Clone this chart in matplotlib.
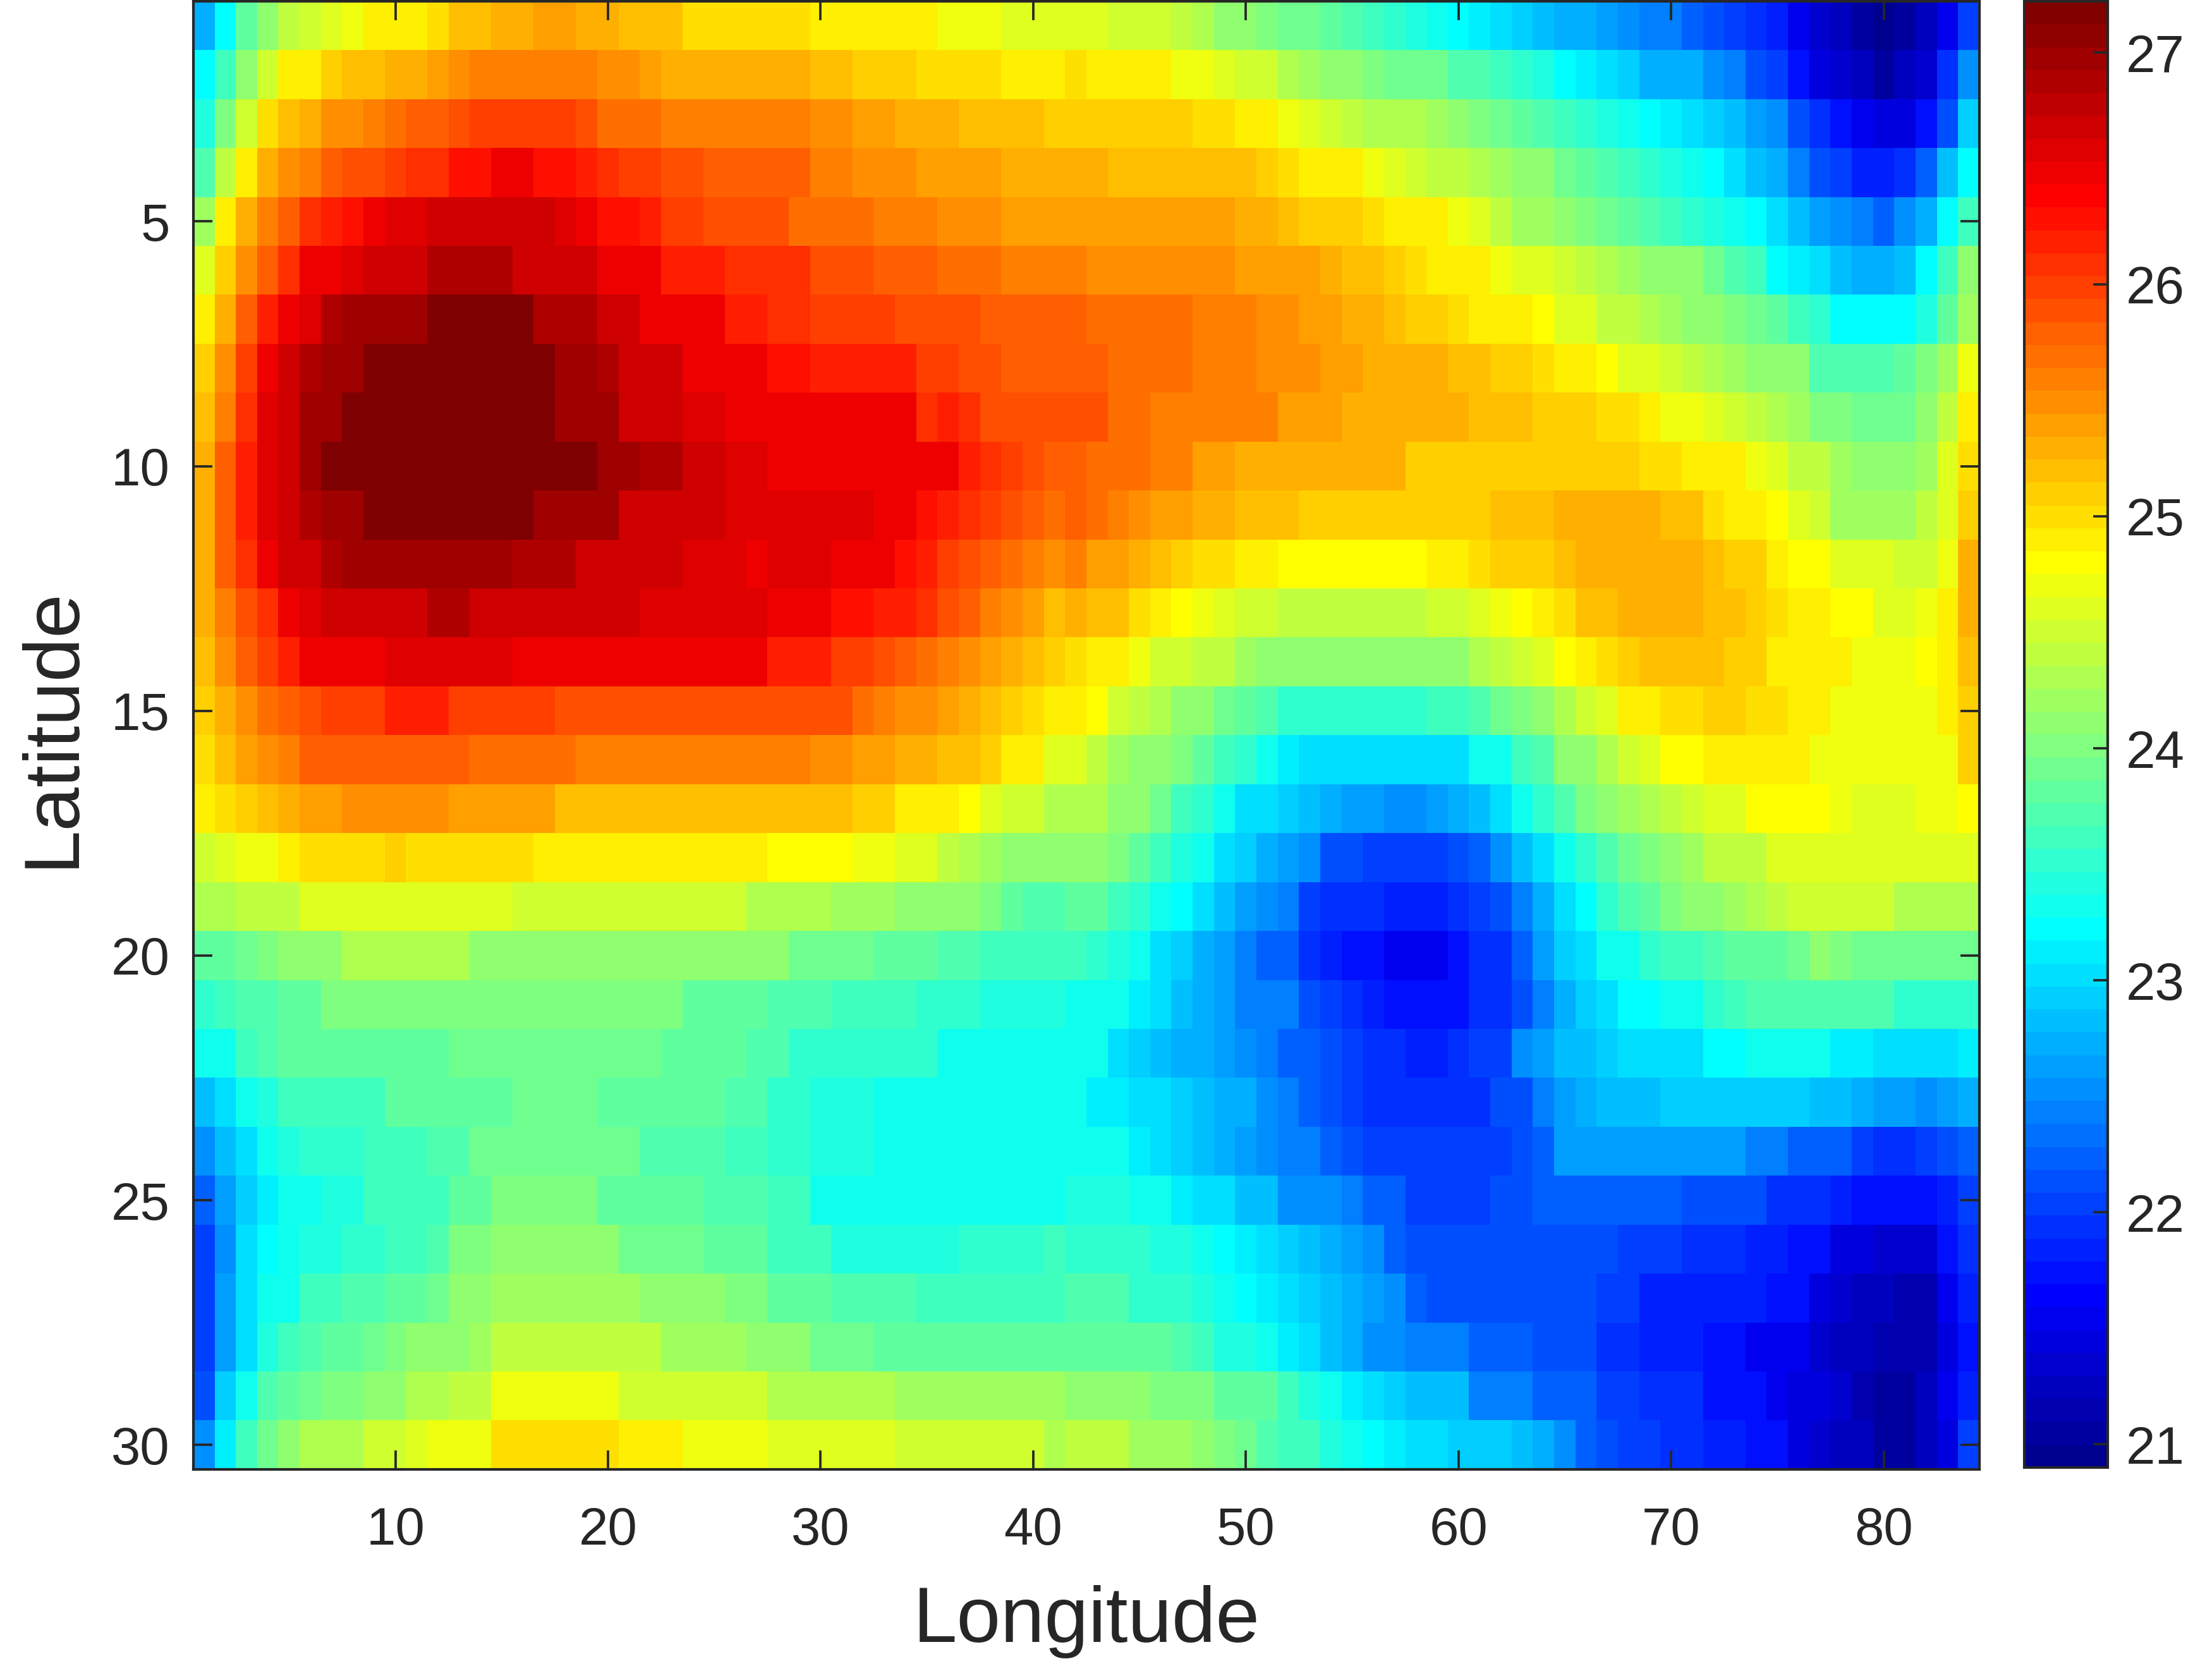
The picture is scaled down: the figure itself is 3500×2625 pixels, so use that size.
import numpy as np
import matplotlib
matplotlib.use('Agg')
import matplotlib.pyplot as plt
from matplotlib.colors import ListedColormap

plt.rcParams['font.family'] = ['Liberation Sans', 'DejaVu Sans']
INK = '#262626'

# one list per latitude row, 84 longitudes
row01 = [22.5,23.0,23.6,23.9,24.3,24.4,24.5,24.6,24.8,24.8,
         24.9,25.0,25.2,25.2,25.3,25.3,25.4,25.4,25.3,25.3,
         25.2,25.2,25.2,25.0,25.0,25.0,25.0,25.0,25.0,24.9,
         24.9,24.9,24.8,24.8,24.8,24.6,24.6,24.6,24.5,24.5,
         24.5,24.5,24.5,24.4,24.4,24.4,24.3,24.2,24.0,23.9,
         23.8,23.7,23.7,23.6,23.5,23.4,23.3,23.2,23.1,23.0,
         22.9,22.8,22.7,22.6,22.5,22.5,22.4,22.3,22.2,22.2,
         22.1,22.0,21.9,21.8,21.7,21.5,21.3,21.2,21.0,20.9,
         21.0,21.2,21.5,21.9]
row02 = [23.0,23.4,23.9,24.4,24.8,24.9,25.1,25.2,25.2,25.3,
         25.3,25.4,25.5,25.6,25.6,25.6,25.6,25.6,25.6,25.5,
         25.5,25.4,25.3,25.3,25.3,25.3,25.3,25.3,25.3,25.2,
         25.2,25.1,25.1,25.1,25.0,25.0,25.0,25.0,24.9,24.9,
         24.9,25.0,24.8,24.8,24.8,24.8,24.6,24.6,24.5,24.4,
         24.4,24.2,24.1,24.0,23.9,23.8,23.7,23.7,23.7,23.5,
         23.5,23.4,23.3,23.2,23.0,22.9,22.8,22.7,22.5,22.5,
         22.5,22.3,22.2,22.0,21.9,21.6,21.4,21.3,21.2,21.0,
         21.2,21.3,21.8,22.3]
row03 = [23.2,23.8,24.4,25.0,25.2,25.3,25.5,25.5,25.6,25.7,
         25.8,25.8,25.9,26.0,26.0,26.0,26.0,26.0,25.9,25.7,
         25.7,25.7,25.6,25.6,25.6,25.6,25.6,25.6,25.6,25.5,
         25.5,25.4,25.4,25.3,25.3,25.3,25.2,25.2,25.2,25.2,
         25.1,25.1,25.1,25.1,25.1,25.1,25.1,25.0,25.0,24.9,
         24.8,24.6,24.5,24.4,24.3,24.2,24.2,24.2,24.1,23.9,
         23.8,23.7,23.6,23.5,23.4,23.3,23.2,23.1,23.0,22.9,
         22.8,22.7,22.6,22.4,22.3,22.0,21.8,21.6,21.5,21.4,
         21.4,21.6,22.0,22.7]
row04 = [23.5,24.3,24.9,25.3,25.5,25.6,25.8,25.9,25.9,26.0,
         26.1,26.1,26.3,26.3,26.4,26.4,26.3,26.3,26.2,26.1,
         26.0,26.0,25.9,25.9,25.8,25.8,25.8,25.8,25.8,25.6,
         25.6,25.5,25.5,25.5,25.4,25.4,25.4,25.4,25.3,25.3,
         25.3,25.3,25.3,25.2,25.2,25.2,25.2,25.2,25.2,25.2,
         25.1,25.0,24.9,24.9,24.8,24.6,24.5,24.4,24.3,24.3,
         24.2,24.1,24.0,23.9,23.7,23.6,23.5,23.4,23.3,23.2,
         23.1,23.0,22.8,22.6,22.5,22.2,22.0,21.9,21.7,21.7,
         21.8,22.1,22.6,23.0]
row05 = [24.1,24.8,25.3,25.6,25.8,26.1,26.2,26.3,26.4,26.6,
         26.6,26.7,26.7,26.8,26.8,26.8,26.8,26.6,26.4,26.3,
         26.3,26.2,26.0,26.0,25.9,25.9,25.9,25.9,25.7,25.7,
         25.7,25.7,25.6,25.6,25.6,25.5,25.5,25.5,25.4,25.4,
         25.4,25.4,25.4,25.4,25.4,25.4,25.4,25.4,25.4,25.3,
         25.3,25.2,25.1,25.1,25.1,25.0,24.9,24.8,24.8,24.6,
         24.5,24.3,24.1,24.1,24.0,23.8,23.7,23.6,23.5,23.4,
         23.3,23.2,23.1,23.0,22.8,22.6,22.4,22.3,22.2,22.1,
         22.3,22.5,23.0,23.4]
row06 = [24.5,25.1,25.5,25.8,26.1,26.4,26.5,26.6,26.7,26.8,
         26.8,26.9,26.9,26.9,26.9,26.8,26.8,26.7,26.7,26.5,
         26.5,26.4,26.2,26.2,26.2,26.1,26.1,26.1,26.1,25.9,
         25.9,25.9,25.8,25.8,25.8,25.7,25.7,25.7,25.6,25.6,
         25.6,25.6,25.5,25.5,25.5,25.5,25.5,25.5,25.5,25.4,
         25.4,25.4,25.4,25.3,25.2,25.2,25.1,25.0,24.9,24.9,
         24.8,24.6,24.5,24.5,24.4,24.3,24.2,24.1,24.0,23.9,
         23.9,23.7,23.5,23.4,23.0,22.9,22.8,22.6,22.5,22.5,
         22.6,23.0,23.4,23.9]
row07 = [24.9,25.3,25.8,26.2,26.4,26.6,26.9,27.0,27.0,27.0,
         27.0,27.1,27.1,27.1,27.1,27.1,26.9,26.9,26.9,26.7,
         26.7,26.5,26.5,26.4,26.4,26.2,26.2,26.1,26.1,26.0,
         26.0,26.0,26.0,25.9,25.9,25.9,25.9,25.8,25.8,25.8,
         25.8,25.8,25.7,25.7,25.7,25.7,25.7,25.6,25.6,25.6,
         25.5,25.5,25.4,25.4,25.3,25.3,25.2,25.1,25.1,25.0,
         24.9,24.9,24.8,24.7,24.5,24.5,24.3,24.3,24.2,24.1,
         23.9,23.9,23.8,23.7,23.6,23.4,23.3,23.0,23.0,23.0,
         23.0,23.2,23.6,24.1]
row08 = [25.1,25.5,26.0,26.4,26.7,26.9,27.0,27.0,27.2,27.2,
         27.2,27.2,27.2,27.2,27.2,27.2,27.2,27.0,27.0,26.9,
         26.8,26.8,26.7,26.5,26.5,26.4,26.4,26.3,26.3,26.2,
         26.2,26.2,26.2,26.2,26.0,26.0,25.9,25.9,25.8,25.8,
         25.8,25.8,25.8,25.7,25.7,25.7,25.7,25.6,25.6,25.6,
         25.5,25.5,25.5,25.4,25.4,25.3,25.3,25.3,25.3,25.2,
         25.2,25.1,25.1,25.0,24.8,24.8,24.7,24.5,24.5,24.4,
         24.3,24.2,24.1,24.0,24.0,23.9,23.5,23.5,23.5,23.5,
         23.6,23.8,24.1,24.6]
row09 = [25.2,25.6,26.1,26.6,26.8,27.0,27.0,27.1,27.2,27.2,
         27.2,27.2,27.2,27.2,27.2,27.2,27.2,27.0,27.0,27.0,
         26.8,26.8,26.8,26.6,26.6,26.5,26.5,26.4,26.4,26.4,
         26.4,26.4,26.4,26.4,26.1,26.2,26.1,25.9,25.9,25.9,
         25.9,25.9,25.9,25.7,25.7,25.6,25.6,25.6,25.6,25.6,
         25.6,25.4,25.4,25.4,25.3,25.3,25.3,25.3,25.3,25.3,
         25.2,25.2,25.2,25.1,25.1,25.1,25.0,25.0,24.8,24.6,
         24.6,24.5,24.4,24.3,24.2,24.1,23.8,23.8,23.7,23.7,
         23.7,23.9,24.3,24.8]
row10 = [25.3,25.8,26.2,26.6,26.8,27.0,27.1,27.1,27.1,27.2,
         27.2,27.2,27.2,27.2,27.2,27.2,27.1,27.1,27.1,27.0,
         27.0,26.9,26.9,26.8,26.8,26.6,26.6,26.5,26.5,26.5,
         26.4,26.4,26.4,26.4,26.4,26.4,26.2,26.1,26.0,25.9,
         25.8,25.8,25.7,25.7,25.7,25.6,25.6,25.4,25.4,25.3,
         25.3,25.3,25.3,25.3,25.3,25.3,25.3,25.1,25.1,25.1,
         25.1,25.1,25.1,25.1,25.1,25.1,25.1,25.1,25.0,25.0,
         24.9,24.8,24.8,24.6,24.5,24.3,24.3,24.1,23.9,23.9,
         23.9,24.1,24.5,25.0]
row11 = [25.3,25.8,26.2,26.6,26.8,26.9,27.0,27.0,27.1,27.1,
         27.1,27.1,27.1,27.1,27.1,27.1,27.0,27.0,27.0,27.0,
         26.8,26.8,26.8,26.7,26.7,26.6,26.6,26.6,26.6,26.6,
         26.6,26.6,26.4,26.4,26.3,26.2,26.1,26.0,25.9,25.8,
         25.7,25.8,25.7,25.6,25.5,25.4,25.4,25.3,25.3,25.2,
         25.2,25.2,25.1,25.1,25.1,25.1,25.1,25.1,25.1,25.1,
         25.1,25.2,25.2,25.2,25.3,25.3,25.3,25.3,25.3,25.2,
         25.2,25.0,24.9,24.8,24.7,24.5,24.4,24.1,24.1,24.1,
         24.1,24.3,24.5,25.1]
row12 = [25.3,25.8,26.1,26.4,26.7,26.8,26.9,27.0,27.0,27.0,
         27.0,27.0,27.0,27.0,27.0,26.9,26.9,26.9,26.8,26.8,
         26.7,26.7,26.7,26.6,26.6,26.6,26.5,26.6,26.6,26.6,
         26.4,26.4,26.4,26.3,26.2,26.0,25.9,25.8,25.7,25.6,
         25.5,25.6,25.4,25.4,25.3,25.2,25.1,25.0,25.0,24.8,
         24.8,24.7,24.7,24.7,24.7,24.7,24.7,24.7,24.8,24.8,
         25.0,25.1,25.1,25.1,25.2,25.3,25.3,25.3,25.3,25.3,
         25.3,25.2,25.1,25.1,24.8,24.7,24.7,24.5,24.5,24.5,
         24.4,24.4,24.6,25.3]
row13 = [25.3,25.6,25.9,26.1,26.4,26.6,26.7,26.8,26.8,26.8,
         26.8,26.9,26.9,26.7,26.7,26.7,26.7,26.7,26.7,26.7,
         26.7,26.6,26.6,26.6,26.6,26.6,26.6,26.4,26.4,26.4,
         26.3,26.3,26.2,26.2,26.1,25.9,25.8,25.6,25.5,25.4,
         25.2,25.3,25.2,25.2,25.0,24.8,24.7,24.6,24.5,24.4,
         24.4,24.3,24.3,24.3,24.3,24.3,24.3,24.3,24.4,24.4,
         24.5,24.6,24.7,24.8,25.0,25.2,25.2,25.3,25.3,25.3,
         25.3,25.2,25.2,25.1,25.0,24.8,24.8,24.7,24.7,24.5,
         24.5,24.6,24.8,25.3]
row14 = [25.2,25.5,25.8,26.0,26.2,26.4,26.5,26.5,26.5,26.6,
         26.6,26.6,26.6,26.6,26.6,26.5,26.5,26.5,26.4,26.4,
         26.4,26.4,26.4,26.4,26.4,26.4,26.4,26.2,26.2,26.2,
         26.0,26.0,25.9,25.8,25.7,25.6,25.5,25.4,25.3,25.2,
         25.1,25.0,24.9,24.8,24.6,24.4,24.4,24.3,24.3,24.1,
         24.0,23.9,23.9,23.9,23.9,23.9,23.9,23.9,23.9,24.0,
         24.2,24.3,24.4,24.5,24.7,24.8,25.0,25.1,25.2,25.2,
         25.2,25.2,25.1,25.1,24.9,24.8,24.8,24.8,24.6,24.6,
         24.6,24.7,24.8,25.2]
row15 = [25.1,25.3,25.5,25.7,25.8,25.9,26.0,26.0,26.0,26.2,
         26.2,26.2,26.0,26.0,26.0,26.0,26.0,25.9,25.9,25.9,
         25.9,25.9,25.9,25.9,25.9,25.9,25.9,25.9,25.9,25.9,
         25.9,25.7,25.6,25.5,25.5,25.4,25.3,25.2,25.1,25.0,
         24.8,24.8,24.7,24.4,24.3,24.2,24.0,23.9,23.7,23.6,
         23.5,23.3,23.3,23.3,23.3,23.3,23.3,23.3,23.4,23.4,
         23.5,23.7,23.8,23.9,24.2,24.4,24.5,24.8,24.8,25.0,
         25.0,25.1,25.1,25.0,25.0,24.8,24.8,24.6,24.6,24.6,
         24.6,24.6,24.8,25.1]
row16 = [25.0,25.2,25.4,25.5,25.6,25.8,25.8,25.8,25.8,25.8,
         25.8,25.8,25.8,25.7,25.7,25.7,25.7,25.7,25.6,25.6,
         25.6,25.6,25.6,25.6,25.6,25.6,25.6,25.6,25.6,25.5,
         25.5,25.4,25.4,25.3,25.3,25.2,25.2,25.1,24.9,24.8,
         24.5,24.5,24.3,24.1,24.0,23.9,23.8,23.6,23.4,23.3,
         23.1,22.9,22.8,22.8,22.8,22.8,22.8,22.8,22.8,22.8,
         23.1,23.1,23.4,23.5,23.9,24.0,24.2,24.4,24.5,24.7,
         24.7,24.8,24.8,24.8,24.8,24.8,24.6,24.6,24.6,24.6,
         24.6,24.6,24.6,25.1]
row17 = [24.8,25.0,25.1,25.2,25.3,25.4,25.4,25.5,25.5,25.5,
         25.5,25.5,25.4,25.4,25.4,25.4,25.4,25.2,25.2,25.2,
         25.2,25.2,25.2,25.2,25.2,25.2,25.2,25.2,25.2,25.2,
         25.2,25.1,25.1,24.9,24.9,24.8,24.7,24.5,24.4,24.4,
         24.2,24.2,24.2,24.0,23.9,23.7,23.4,23.3,23.1,22.8,
         22.8,22.7,22.6,22.5,22.4,22.4,22.3,22.3,22.4,22.5,
         22.6,22.8,23.1,23.3,23.5,23.8,23.9,24.1,24.2,24.3,
         24.4,24.5,24.5,24.7,24.7,24.7,24.7,24.6,24.5,24.5,
         24.5,24.6,24.6,24.7]
row18 = [24.4,24.5,24.6,24.6,24.8,25.0,25.0,25.0,25.0,25.1,
         25.0,25.0,25.0,25.0,25.0,25.0,24.8,24.8,24.8,24.8,
         24.8,24.8,24.8,24.8,24.8,24.8,24.8,24.7,24.7,24.7,
         24.7,24.6,24.6,24.5,24.5,24.3,24.2,24.1,24.0,24.0,
         23.9,24.0,23.9,23.8,23.6,23.4,23.2,23.1,22.8,22.7,
         22.5,22.4,22.3,22.0,22.0,21.9,21.9,21.9,21.9,22.0,
         22.1,22.3,22.6,22.8,23.1,23.3,23.5,23.7,23.8,24.0,
         24.1,24.3,24.3,24.3,24.5,24.5,24.5,24.5,24.5,24.5,
         24.5,24.5,24.5,24.5]
row19 = [24.2,24.2,24.3,24.3,24.3,24.5,24.5,24.5,24.5,24.5,
         24.5,24.5,24.5,24.5,24.5,24.4,24.4,24.4,24.4,24.4,
         24.4,24.4,24.4,24.4,24.4,24.4,24.2,24.2,24.2,24.2,
         24.1,24.1,24.1,24.0,24.0,24.0,23.9,23.8,23.6,23.5,
         23.5,23.6,23.6,23.4,23.3,23.1,23.0,22.8,22.6,22.4,
         22.3,22.2,21.9,21.8,21.8,21.8,21.7,21.7,21.7,21.8,
         21.9,22.0,22.2,22.5,22.8,23.0,23.3,23.5,23.6,23.8,
         23.9,24.0,24.1,24.2,24.3,24.4,24.4,24.4,24.4,24.4,
         24.2,24.2,24.2,24.2]
row20 = [23.6,23.6,23.7,23.8,24.0,24.0,24.0,24.2,24.2,24.2,
         24.2,24.2,24.2,24.0,24.0,24.0,24.0,24.0,24.0,24.0,
         24.0,24.0,24.0,24.0,23.9,23.9,23.9,23.9,23.7,23.7,
         23.7,23.7,23.6,23.6,23.6,23.5,23.5,23.4,23.4,23.4,
         23.4,23.4,23.3,23.2,23.1,22.8,22.7,22.5,22.4,22.2,
         22.1,22.1,21.8,21.7,21.6,21.6,21.5,21.5,21.5,21.6,
         21.8,21.8,22.1,22.4,22.7,22.8,23.1,23.1,23.3,23.4,
         23.4,23.5,23.6,23.6,23.6,23.7,23.9,23.8,23.7,23.7,
         23.7,23.7,23.7,23.7]
row21 = [23.3,23.4,23.5,23.5,23.6,23.6,23.8,23.8,23.8,23.8,
         23.8,23.8,23.8,23.8,23.8,23.8,23.8,23.8,23.8,23.8,
         23.8,23.8,23.8,23.6,23.6,23.6,23.6,23.5,23.5,23.5,
         23.4,23.4,23.4,23.4,23.3,23.3,23.3,23.2,23.2,23.2,
         23.2,23.1,23.1,23.1,22.9,22.8,22.6,22.5,22.4,22.2,
         22.2,22.2,22.0,21.9,21.8,21.7,21.6,21.6,21.6,21.6,
         21.8,21.8,22.0,22.2,22.5,22.7,22.8,23.0,23.0,23.1,
         23.1,23.3,23.4,23.5,23.5,23.5,23.5,23.5,23.5,23.5,
         23.3,23.3,23.3,23.3]
row22 = [23.1,23.1,23.4,23.5,23.6,23.6,23.6,23.6,23.6,23.6,
         23.6,23.6,23.7,23.7,23.7,23.7,23.7,23.7,23.7,23.7,
         23.7,23.7,23.6,23.6,23.6,23.6,23.5,23.5,23.3,23.3,
         23.3,23.3,23.3,23.3,23.3,23.1,23.1,23.1,23.1,23.1,
         23.1,23.1,23.1,22.8,22.7,22.6,22.5,22.5,22.4,22.3,
         22.2,22.1,22.1,22.0,21.9,21.8,21.8,21.7,21.7,21.8,
         21.9,21.9,22.3,22.4,22.6,22.6,22.7,22.8,22.8,22.8,
         22.8,23.0,23.0,23.1,23.1,23.1,23.1,22.9,22.9,22.8,
         22.8,22.8,22.8,22.9]
row23 = [22.6,22.8,23.1,23.2,23.4,23.4,23.4,23.4,23.4,23.6,
         23.6,23.6,23.6,23.6,23.6,23.7,23.7,23.7,23.7,23.6,
         23.6,23.6,23.6,23.6,23.6,23.5,23.5,23.3,23.3,23.2,
         23.2,23.2,23.1,23.1,23.1,23.1,23.1,23.1,23.1,23.1,
         23.1,23.1,22.9,22.9,22.8,22.8,22.7,22.6,22.5,22.5,
         22.3,22.2,22.1,22.0,21.9,21.8,21.8,21.8,21.8,21.8,
         21.8,22.0,22.0,22.2,22.4,22.5,22.6,22.6,22.6,22.7,
         22.7,22.7,22.7,22.7,22.7,22.7,22.6,22.6,22.5,22.4,
         22.4,22.3,22.4,22.5]
row24 = [22.3,22.6,22.8,23.1,23.2,23.3,23.3,23.3,23.4,23.4,
         23.4,23.5,23.5,23.7,23.7,23.7,23.7,23.7,23.7,23.7,
         23.7,23.5,23.5,23.5,23.5,23.4,23.4,23.3,23.3,23.2,
         23.2,23.2,23.1,23.1,23.1,23.1,23.1,23.1,23.1,23.1,
         23.1,23.1,23.1,23.1,22.9,22.8,22.7,22.6,22.5,22.4,
         22.3,22.2,22.2,22.1,22.0,21.9,21.9,21.9,21.9,21.9,
         21.9,21.9,22.0,22.1,22.4,22.4,22.4,22.4,22.4,22.4,
         22.4,22.4,22.4,22.2,22.2,22.1,22.1,22.1,21.9,21.8,
         21.8,21.9,22.0,22.1]
row25 = [22.1,22.4,22.7,22.9,23.1,23.1,23.2,23.2,23.4,23.4,
         23.4,23.4,23.6,23.6,23.8,23.8,23.8,23.8,23.8,23.6,
         23.6,23.6,23.6,23.6,23.5,23.5,23.5,23.4,23.4,23.1,
         23.1,23.1,23.1,23.1,23.1,23.1,23.1,23.1,23.1,23.1,
         23.1,23.2,23.2,23.2,23.1,23.1,22.9,22.8,22.8,22.6,
         22.6,22.3,22.3,22.3,22.2,22.1,22.1,21.9,21.9,21.9,
         21.9,22.0,22.0,22.1,22.1,22.1,22.1,22.1,22.1,22.1,
         22.0,22.0,22.0,22.0,21.8,21.8,21.8,21.7,21.6,21.6,
         21.6,21.6,21.7,21.9]
row26 = [21.9,22.3,22.8,23.0,23.1,23.2,23.2,23.3,23.3,23.4,
         23.4,23.5,23.8,23.8,23.9,23.9,23.9,23.9,23.9,23.9,
         23.7,23.7,23.7,23.7,23.6,23.6,23.6,23.4,23.4,23.4,
         23.2,23.2,23.2,23.2,23.2,23.2,23.3,23.3,23.3,23.3,
         23.4,23.3,23.3,23.3,23.3,23.2,23.2,23.1,23.0,22.9,
         22.8,22.7,22.6,22.5,22.4,22.3,22.1,22.0,22.0,22.0,
         22.0,22.0,22.0,22.0,22.0,22.0,22.0,21.9,21.9,21.9,
         21.8,21.8,21.8,21.7,21.7,21.6,21.6,21.4,21.4,21.3,
         21.3,21.3,21.6,21.8]
row27 = [21.9,22.4,22.8,23.1,23.1,23.4,23.4,23.5,23.5,23.6,
         23.6,23.7,23.9,23.9,24.1,24.1,24.1,24.1,24.1,24.1,
         24.1,23.9,23.9,23.9,23.9,23.8,23.8,23.6,23.6,23.6,
         23.5,23.5,23.5,23.5,23.4,23.4,23.4,23.4,23.4,23.4,
         23.4,23.5,23.5,23.5,23.3,23.3,23.3,23.2,23.1,23.0,
         22.9,22.8,22.7,22.6,22.5,22.4,22.3,22.1,22.0,22.0,
         22.0,22.0,22.0,22.0,22.0,22.0,21.9,21.9,21.7,21.7,
         21.7,21.7,21.7,21.7,21.6,21.6,21.4,21.3,21.2,21.2,
         21.1,21.1,21.5,21.7]
row28 = [21.9,22.4,22.8,23.2,23.4,23.5,23.6,23.6,23.7,23.8,
         23.9,24.0,24.0,24.1,24.3,24.3,24.3,24.3,24.3,24.3,
         24.3,24.3,24.1,24.1,24.1,24.1,23.9,23.9,23.9,23.7,
         23.7,23.7,23.6,23.6,23.6,23.6,23.6,23.6,23.6,23.6,
         23.6,23.6,23.6,23.6,23.6,23.6,23.5,23.4,23.2,23.2,
         23.1,22.9,22.8,22.6,22.5,22.3,22.3,22.2,22.2,22.2,
         22.1,22.1,22.1,22.0,22.0,22.0,21.8,21.8,21.7,21.7,
         21.7,21.6,21.6,21.5,21.5,21.5,21.3,21.2,21.2,21.1,
         21.1,21.1,21.4,21.6]
row29 = [22.0,22.7,23.1,23.5,23.6,23.7,23.8,23.8,24.0,24.0,
         24.2,24.2,24.3,24.3,24.6,24.6,24.6,24.6,24.6,24.6,
         24.4,24.4,24.4,24.4,24.4,24.4,24.4,24.2,24.2,24.2,
         24.2,24.2,24.2,24.1,24.1,24.1,24.1,24.1,24.1,24.1,
         24.1,24.0,24.0,24.0,24.0,23.8,23.8,23.8,23.6,23.6,
         23.6,23.4,23.2,23.1,22.9,22.8,22.7,22.6,22.6,22.6,
         22.2,22.2,22.2,22.1,22.1,22.1,21.9,21.9,21.8,21.8,
         21.8,21.6,21.6,21.6,21.5,21.4,21.4,21.3,21.1,21.0,
         21.0,21.2,21.5,21.7]
row30 = [22.3,22.9,23.4,23.7,23.9,24.2,24.2,24.2,24.4,24.4,
         24.5,24.6,24.6,24.6,25.0,25.0,25.0,25.0,25.0,25.0,
         24.8,24.8,24.8,24.6,24.6,24.6,24.6,24.5,24.5,24.5,
         24.5,24.5,24.5,24.4,24.4,24.4,24.4,24.4,24.4,24.4,
         24.2,24.3,24.3,24.3,24.1,24.1,24.1,23.9,23.8,23.7,
         23.5,23.4,23.4,23.2,23.1,23.0,22.9,22.8,22.8,22.7,
         22.7,22.7,22.6,22.5,22.3,22.1,22.0,21.9,21.9,21.8,
         21.8,21.7,21.7,21.6,21.6,21.4,21.3,21.2,21.2,21.0,
         21.0,21.2,21.4,21.9]

sst = np.array([row01, row02, row03, row04, row05, row06, row07, row08, row09, row10,
                row11, row12, row13, row14, row15, row16, row17, row18, row19, row20,
                row21, row22, row23, row24, row25, row26, row27, row28, row29, row30])
x_ticks = [10, 20, 30, 40, 50, 60, 70, 80]
y_ticks = [5, 10, 15, 20, 25, 30]
cbar_ticks = [21, 22, 23, 24, 25, 26, 27]
vmin, vmax = 20.9, 27.22

# rows above were read with a first guess of the colour positions, this puts them on the real bar
guessed_stops = [20.9, 21.6, 22.28, 23.05, 23.9, 24.8, 25.63, 26.4, 26.8, 26.9, 27.0, 27.1, 27.2]
bar_stops = [20.9, 21.69, 22.48, 23.27, 24.06, 24.85, 25.64, 26.43, 26.72, 26.85, 26.95, 27.13, 27.22]
sst = np.interp(sst, guessed_stops, bar_stops)

# MATLAB style jet, 64 steps
t = (np.arange(64) + 1) / 64
jet64 = ListedColormap(np.column_stack([
    np.clip(np.minimum(4*t - 1.5, 4.5 - 4*t), 0, 1),
    np.clip(np.minimum(4*t - 0.5, 3.5 - 4*t), 0, 1),
    np.clip(np.minimum(4*t + 0.5, 2.5 - 4*t), 0, 1),
]))

W, H = 3500, 2625
fig = plt.figure(figsize=(W/300, H/300), dpi=300)

def box(l, t, r, b):
    return [l/W, 1-b/H, (r-l)/W, (b-t)/H]

ax = fig.add_axes(box(306, 2, 3132, 2325))
im = ax.imshow(sst, cmap=jet64, vmin=vmin, vmax=vmax, aspect='auto',
               interpolation='nearest', extent=(0.5, 84.5, 30.5, 0.5))
ax.set_xticks(x_ticks)
ax.set_yticks(y_ticks)
ax.tick_params(direction='in', length=7.2, width=0.9, color=INK, labelcolor=INK,
               labelsize=20, top=True, right=True)
ax.tick_params(axis='x', pad=14)
ax.tick_params(axis='y', pad=9)
for s in ax.spines.values():
    s.set_linewidth(1.0)
    s.set_color(INK)

cax = fig.add_axes(box(3203, 2, 3335, 2322))
cb = fig.colorbar(im, cax=cax)
cb.set_ticks(cbar_ticks)
cax.tick_params(direction='in', length=5.5, width=0.9, color=INK, labelcolor=INK,
                labelsize=20, pad=7)
cb.outline.set_linewidth(1.0)
cb.outline.set_edgecolor(INK)

fig.text(1719/W, 1-2566/H, 'Longitude', fontsize=30, color=INK, ha='center', va='center')
fig.text(84/W, 1-1151/H, 'Latitude', fontsize=30, color=INK, ha='center', va='center', rotation=90)
# colour bar label runs off the right edge, only the degree sign peeks in
fig.text(3494/W, 1-971/H, '°', fontsize=18, color=INK, ha='left', va='center', rotation=90)

fig.savefig('out.png', dpi=300)
plt.close(fig)
